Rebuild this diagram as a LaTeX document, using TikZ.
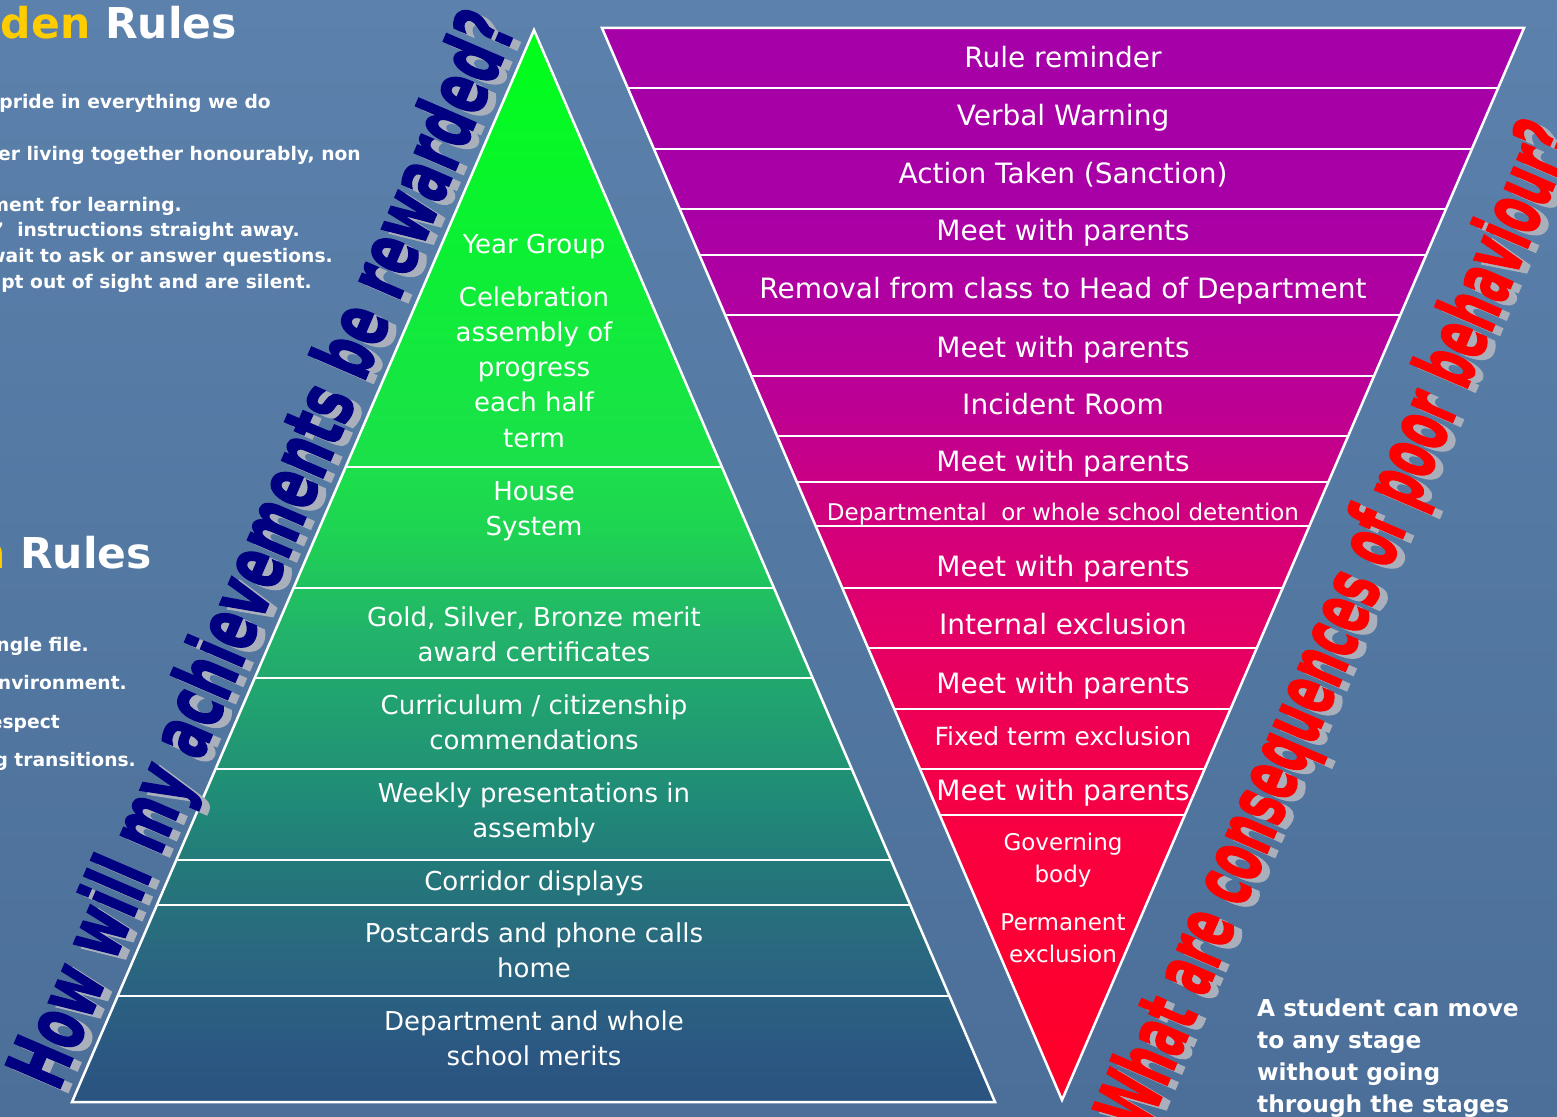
\documentclass[tikz,border=0pt]{standalone}
\usepackage{fontspec}
\setmainfont{DejaVu Sans}
\newfontfamily\heavy{DejaVu Sans}[BoldFeatures={FakeBold=2}]
\usepackage{graphicx}
\definecolor{bgtop}{HTML}{5B81AC}
\definecolor{bgbot}{HTML}{4B6F98}
\definecolor{gold}{HTML}{FFCC00}
\definecolor{navyq}{HTML}{000080}
\definecolor{shadowq}{HTML}{A9B0BB}
\definecolor{g0}{HTML}{2B5380}
\definecolor{g1}{HTML}{2B5882}
\definecolor{g2}{HTML}{2A6880}
\definecolor{g3}{HTML}{24767A}
\definecolor{g4}{HTML}{208878}
\definecolor{g5}{HTML}{219E71}
\definecolor{g6}{HTML}{22B46A}
\definecolor{g7}{HTML}{1ED452}
\definecolor{g8}{HTML}{1BE04A}
\definecolor{g9}{HTML}{0CF034}
\definecolor{g10}{HTML}{00FF18}
\definecolor{m0}{HTML}{FF0025}
\definecolor{m1}{HTML}{FA003E}
\definecolor{m2}{HTML}{F00050}
\definecolor{m3}{HTML}{E2006A}
\definecolor{m4}{HTML}{D0007E}
\definecolor{m5}{HTML}{BC0094}
\definecolor{m6}{HTML}{B000A0}
\definecolor{m7}{HTML}{A800A6}
\definecolor{m8}{HTML}{A600A8}
\pgfdeclareverticalshading{greenpyr}{100bp}{color(0bp)=(g0); color(25bp)=(g0); color(27.4bp)=(g1); color(32.1bp)=(g2); color(35.4bp)=(g3); color(38.6bp)=(g4); color(42.8bp)=(g5); color(47bp)=(g6); color(51.7bp)=(g7); color(54.6bp)=(g8); color(64.7bp)=(g9); color(75bp)=(g10); color(100bp)=(g10)}
\pgfdeclareverticalshading{magpyr}{100bp}{color(0bp)=(m0); color(25bp)=(m0); color(36.7bp)=(m1); color(41.8bp)=(m2); color(47.4bp)=(m3); color(52.4bp)=(m4); color(57.6bp)=(m5); color(62.3bp)=(m6); color(67bp)=(m7); color(75bp)=(m8); color(100bp)=(m8)}
\newcommand\fsz[1]{\fontsize{#1}{1.2\dimexpr#1pt\relax}\selectfont}
\newcommand\leftq{\resizebox{1160pt}{62pt}{\heavy\bfseries How will my achievements be rewarded?}}
\newcommand\rightq{\resizebox{1085pt}{62pt}{\heavy\bfseries What are consequences of poor behaviour?}}
\begin{document}
\begin{tikzpicture}[x=1pt,y=-1pt,
  gtext/.style={text=white, anchor=base, inner sep=0, font=\fsz{26}},
  mtext/.style={text=white, anchor=base, inner sep=0, font=\fsz{28}},
  rule/.style={text=white, anchor=base east, inner sep=0, font=\bfseries\fsz{18.7}},
  title/.style={text=white, anchor=base east, inner sep=0, font=\bfseries\fsz{42.5}},
  note/.style={text=white, anchor=base west, inner sep=0, font=\bfseries\fsz{23.3}},
  divider/.style={draw=white, line width=2pt},
  outline/.style={draw=white, line width=2.5pt, line join=miter},
  diag/.style={rotate=66.7, anchor=base west, inner sep=0}]
\useasboundingbox (0,0) rectangle (1557,1116);
\fill[top color=bgtop, bottom color=bgbot] (0,0) rectangle (1557,1116);

% left rules text (cut off at the left edge)
\node[title] (ttl1) at (237,38) {{\color{gold}den} Rules};
\node[rule] (r1) at (271,108) {pride in everything we do};
\node[rule] (r2) at (361,160) {er living together honourably, non};
\node[rule] (r3) at (182,211) {ment for learning.};
\node[rule] (r4) at (300,236) {’ \ instructions straight away.};
\node[rule] (r5) at (333,262) {wait to ask or answer questions.};
\node[rule] (r6) at (312,288) {pt out of sight and are silent.};
\node[title] (ttl2) at (152,568) {{\color{gold}n} Rules};
\node[rule] (r7) at (89,651) {ngle file.};
\node[rule] (r8) at (127,689) {nvironment.};
\node[rule] (r9) at (60,728) {espect};
\node[rule] (r10) at (136,766) {g transitions.};

% green pyramid
\coordinate (gA) at (534,30);
\coordinate (gL) at (72,1102);
\coordinate (gR) at (995,1102);
\shade[shading=greenpyr] (gA) -- (gL) -- (gR) -- cycle;
\begin{scope}
  \clip (gA) -- (gL) -- (gR) -- cycle;
  \foreach \yy in {467,588,678,769,860,905,996}
    \draw[divider] (0,\yy) -- (1557,\yy);
\end{scope}
\draw[outline] (gA) -- (gL) -- (gR) -- cycle;

% magenta inverted pyramid
\coordinate (mL) at (602,28);
\coordinate (mR) at (1524,28);
\coordinate (mA) at (1062,1100);
\shade[shading=magpyr] (mL) -- (mR) -- (mA) -- cycle;
\begin{scope}
  \clip (mL) -- (mR) -- (mA) -- cycle;
  \foreach \yy in {88,149,209,255,315,376,436,482,526,588,648,709,769,815}
    \draw[divider] (0,\yy) -- (1557,\yy);
\end{scope}
\draw[outline] (mL) -- (mR) -- (mA) -- cycle;

% green texts
\node[gtext] (g1) at (534,253) {Year Group};
\node[gtext] (g2) at (534,306) {Celebration};
\node[gtext] (g3) at (534,341) {assembly of};
\node[gtext] (g4) at (534,376) {progress};
\node[gtext] (g5) at (534,411) {each half};
\node[gtext] (g6) at (534,447) {term};
\node[gtext] (g7) at (534,500) {House};
\node[gtext] (g8) at (534,535) {System};
\node[gtext] (g9) at (534,626) {Gold, Silver, Bronze merit};
\node[gtext] (g10) at (534,661) {award certificates};
\node[gtext] (g11) at (534,714) {Curriculum / citizenship};
\node[gtext] (g12) at (534,749) {commendations};
\node[gtext] (g13) at (534,802) {Weekly presentations in};
\node[gtext] (g14) at (534,837) {assembly};
\node[gtext] (g15) at (534,890) {Corridor displays};
\node[gtext] (g16) at (534,942) {Postcards and phone calls};
\node[gtext] (g17) at (534,977) {home};
\node[gtext] (g18) at (534,1030) {Department and whole};
\node[gtext] (g19) at (534,1065) {school merits};

% magenta texts
\node[mtext] (m1) at (1063,67) {Rule reminder};
\node[mtext] (m2) at (1063,125) {Verbal Warning};
\node[mtext] (m3) at (1063,183) {Action Taken (Sanction)};
\node[mtext] (m4) at (1063,240) {Meet with parents};
\node[mtext] (m5) at (1063,298) {Removal from class to Head of Department};
\node[mtext] (m6) at (1063,357) {Meet with parents};
\node[mtext] (m7) at (1063,414) {Incident Room};
\node[mtext] (m8) at (1063,471) {Meet with parents};
\node[mtext, font=\fsz{23}] (m9) at (1063,520) {Departmental \ or whole school detention};
\node[mtext] (m10) at (1063,576) {Meet with parents};
\node[mtext] (m11) at (1063,634) {Internal exclusion};
\node[mtext] (m12) at (1063,693) {Meet with parents};
\node[mtext, font=\fsz{25}] (m13) at (1063,745) {Fixed term exclusion};
\node[mtext] (m14) at (1063,800) {Meet with parents};
\node[mtext, font=\fsz{23}] (m15) at (1063,850) {Governing};
\node[mtext, font=\fsz{23}] (m16) at (1063,882) {body};
\node[mtext, font=\fsz{23}] (m17) at (1063,930) {Permanent};
\node[mtext, font=\fsz{23}] (m18) at (1063,962) {exclusion};

% diagonal questions
\node[diag, text=shadowq] (qls) at (66,1097) {\leftq};
\node[diag, text=navyq] (ql) at (58,1093) {\leftq};
\node[diag, text=shadowq] (qrs) at (1154,1138) {\rightq};
\node[diag, text=red] (qr) at (1146,1134) {\rightq};

% note
\node[note] (n1) at (1257,1016) {A student can move};
\node[note] (n2) at (1257,1048) {to any stage};
\node[note] (n3) at (1257,1080) {without going};
\node[note] (n4) at (1257,1112) {through the stages};
\end{tikzpicture}
\end{document}
